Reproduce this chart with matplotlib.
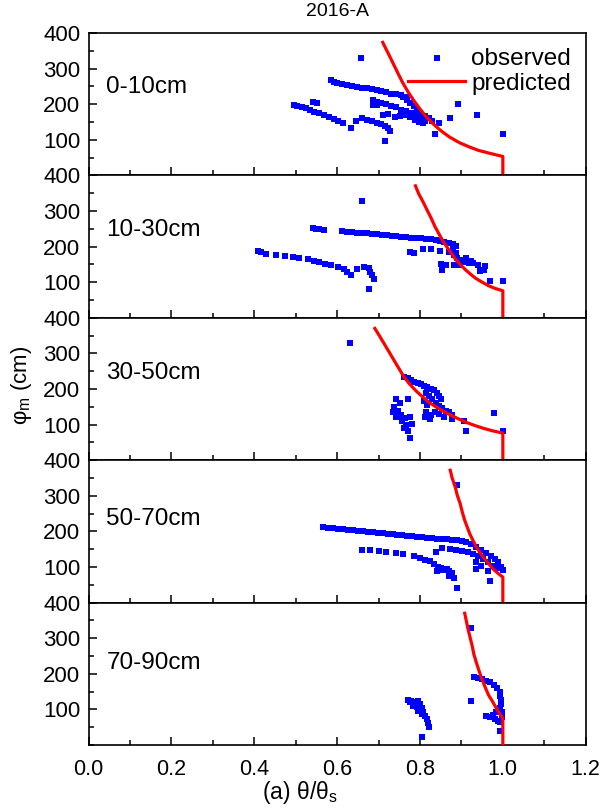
import matplotlib
matplotlib.use("Agg")
import matplotlib.pyplot as plt
from matplotlib.ticker import MultipleLocator, FixedLocator

# ---------------- data ----------------
depth_labels = ["0-10cm", "10-30cm", "30-50cm", "50-70cm", "70-90cm"]
label_y = [247, 247, 244, 236, 230]

obs_x_0_10 = [0.584, 0.592, 0.600, 0.612, 0.624, 0.636, 0.648, 0.660, 0.671, 0.683, 0.695, 0.707, 0.719, 0.731, 0.743, 0.755, 0.767,
              0.496, 0.504, 0.514, 0.524, 0.534, 0.542, 0.552, 0.545, 0.556, 0.568, 0.580, 0.592, 0.602, 0.613, 0.633, 0.646, 0.659,
              0.671, 0.683, 0.695, 0.705, 0.715, 0.723, 0.727, 0.711, 0.722, 0.715, 0.658,
              0.686, 0.695, 0.707, 0.719, 0.731, 0.743, 0.755, 0.767, 0.779, 0.791, 0.803, 0.811, 0.686, 0.697,
              0.739, 0.751, 0.763, 0.775, 0.787, 0.797, 0.807,
              0.759, 0.769, 0.777, 0.785, 0.793, 0.801, 0.811, 0.821, 0.829,
              0.891, 0.938, 1.000, 0.873, 0.847, 0.837]
obs_y_0_10 = [268, 262, 259, 256, 253, 251, 249, 246, 245, 242, 240, 237, 234, 230, 228, 225, 221,
              197.5, 195, 192, 188, 183, 205, 202, 178, 174, 169, 164.5, 158, 152, 148, 134, 153, 160,
              157, 152, 148, 144, 140, 133, 125, 169, 172, 96, 331,
              212, 207, 204, 200, 195, 191, 185, 180, 174, 168, 163, 153, 197.5, 197.5,
              163, 166, 169, 164.5, 157, 150, 146,
              221, 213, 204, 195, 185, 176, 166, 160, 153,
              200, 169, 117, 160, 148, 117]
pred_x_0_10 = [0.710, 0.727, 0.743, 0.757, 0.771, 0.785, 0.799, 0.815, 0.831, 0.851, 0.871, 0.895, 0.919, 0.942,
               0.966, 0.986, 1.000, 1.000]
pred_y_0_10 = [373.6, 334, 296, 263, 235, 210, 188, 164.5, 145.7, 125, 108, 92, 80, 70, 62.8, 57, 53.3, 0]

obs_x_10_30 = [0.661,
               0.541, 0.549, 0.557, 0.569, 0.612, 0.624, 0.636, 0.648, 0.660, 0.672, 0.684, 0.696, 0.708, 0.720, 0.732,
               0.743, 0.755, 0.767, 0.779, 0.791, 0.803, 0.815, 0.827, 0.839, 0.848, 0.859, 0.871, 0.880, 0.887,
               0.775, 0.785, 0.807, 0.827, 0.848, 0.871, 0.883, 0.890, 0.898, 0.909, 0.918, 0.928, 0.941, 0.956,
               0.851, 0.863, 0.852, 0.883, 0.893, 0.946, 0.954, 0.970, 1.000, 0.879, 0.888, 0.910, 0.922,
               0.410, 0.417, 0.429, 0.453, 0.473, 0.493, 0.509, 0.529, 0.545, 0.557, 0.570, 0.586, 0.602, 0.616,
               0.624, 0.634, 0.648, 0.666, 0.676, 0.680, 0.684, 0.688, 0.677]
obs_y_10_30 = [328.5,
               251.7, 249.9, 249, 247, 244, 242, 240, 239.6, 237.7, 236.8, 235, 234, 233, 232, 231,
               230, 228, 227, 225, 224.6, 223.7, 222.7, 221, 219, 217, 214, 211, 208, 203,
               184.3, 181.5, 193.7, 193.7, 189, 184.3, 177, 169, 163, 156, 153.5, 153.5, 149, 146,
               150.6, 149, 133, 147, 149, 132, 135, 102, 102, 191, 181.5, 167, 160,
               188, 184.3, 179.7, 177, 174, 171, 167.5, 163.8, 160, 156, 152.5, 149, 144, 137.5,
               130, 120.7, 137.5, 144, 139, 130, 120.7, 109, 79.5]
pred_x_10_30 = [0.789, 0.797, 0.807, 0.817, 0.827, 0.836, 0.847, 0.856, 0.867, 0.877, 0.887, 0.898, 0.910, 0.922,
                0.934, 0.950, 0.966, 0.982, 1.000, 1.000]
pred_y_10_30 = [370.6, 348, 326.6, 303, 280, 256.4, 233, 214.3, 195.6, 178.7, 162.8, 148.8, 134.7, 122.6,
                111.3, 100.1, 89.8, 82.3, 75.8, 0]

obs_x_30_50 = [0.630,
               0.762, 0.770, 0.778, 0.786, 0.794, 0.802, 0.810, 0.818, 0.826, 0.834, 0.842, 0.846, 0.850,
               0.814, 0.822, 0.830, 0.838, 0.846, 0.854, 0.862, 0.870, 0.878,
               0.810, 0.818, 0.814, 0.826, 0.836, 0.846, 0.858, 0.878, 0.906, 0.910, 0.978, 1.000, 0.823, 0.812,
               0.743, 0.751, 0.772, 0.738, 0.734, 0.746, 0.754, 0.764, 0.775, 0.780, 0.766, 0.762, 0.770, 0.775,
               0.756, 0.742]
obs_y_30_50 = [329,
               232.5, 229.7, 226, 221, 216.6, 213.8, 209, 204.4, 199.8, 197, 190, 181, 171.7,
               190, 181, 171.7, 162, 153, 148, 139, 134, 127.7,
               165, 155.8, 134, 127.7, 134, 129.6, 120, 115.5, 111, 81, 131.4, 83, 115.5, 122,
               171.7, 162, 171.7, 150, 134, 137, 127.7, 118.3, 120, 103, 99.6, 90, 82.8, 61,
               110.8, 122]
pred_x_30_50 = [0.691, 0.702, 0.714, 0.726, 0.738, 0.750, 0.762, 0.775, 0.790, 0.806, 0.822, 0.838, 0.854, 0.874,
                0.894, 0.914, 0.934, 0.954, 0.974, 1.000, 1.000]
pred_y_30_50 = [370.1, 349.5, 326.1, 302.7, 279.3, 255.9, 232.5, 213.8, 195.1, 178.2, 162.3, 150.2, 138.9, 126.8,
                115.5, 105.2, 96.8, 89.3, 82.8, 76.2, 0]

obs_x_50_70 = [0.889,
               0.565, 0.579, 0.590, 0.602, 0.614, 0.626, 0.638, 0.650, 0.662, 0.674, 0.686, 0.698, 0.710, 0.722,
               0.734, 0.745, 0.757, 0.769, 0.781, 0.793, 0.805, 0.817, 0.829, 0.841, 0.853, 0.865, 0.877, 0.889,
               0.901, 0.912, 0.924, 0.936, 0.948, 0.960, 0.972, 0.980, 0.988, 0.996, 1.000,
               0.660, 0.679, 0.702, 0.718, 0.742, 0.759, 0.785, 0.799, 0.813, 0.825, 0.835, 0.843, 0.851, 0.861,
               0.869, 0.877, 0.883, 0.890, 0.841, 0.849, 0.869, 0.865,
               0.838, 0.854, 0.873, 0.886, 0.901, 0.916, 0.928, 0.940, 0.952, 0.964, 0.976, 0.988,
               0.936, 0.935, 0.948, 0.964, 0.968]
obs_y_50_70 = [329.6,
               212.2, 210.3, 209, 207.5, 206, 204.7, 203.3, 201.9, 200.5, 199, 197.6, 196.2, 194.8, 193.4,
               192, 190.6, 189.2, 187.8, 186.4, 185, 183.6, 182.2, 181.2, 179.8, 178.4, 177.5, 176.5, 175.6,
               173.7, 169, 163.4, 155.9, 148.3, 140, 129.6, 122, 112.7, 101.4, 92,
               148.3, 146.5, 144.6, 142.7, 139, 135.2, 129.6, 125.8, 120.2, 116.4, 108.9, 101.4, 97.6, 92,
               88.3, 82.6, 69.5, 40.4, 88.3, 92, 76, 94.8,
               141.8, 154, 150.2, 146.5, 144.6, 140.8, 136.1, 129.6, 122, 113.6, 104.2, 97.6,
               94.8, 113.6, 104.2, 88.3, 62]
pred_x_50_70 = [0.873, 0.878, 0.885, 0.890, 0.897, 0.902, 0.908, 0.914, 0.920, 0.928, 0.936, 0.946, 0.956, 0.966,
                0.976, 0.988, 1.000, 1.000]
pred_y_50_70 = [371.8, 348.4, 324.9, 301.4, 277.9, 254.5, 231, 212.2, 193.4, 174.6, 155.9, 138.9, 123, 108.9,
                94.8, 82.6, 71.4, 0]

obs_x_70_90 = [0.924, 0.922,
               0.930, 0.940, 0.950, 0.960, 0.970, 0.978, 0.986, 0.992, 0.994, 0.996, 0.996, 0.994, 0.998, 0.998,
               0.984, 0.976, 0.968, 0.960, 0.980, 0.988, 0.994, 0.992,
               0.772, 0.778, 0.786, 0.794, 0.800, 0.792, 0.804, 0.808, 0.812, 0.804, 0.816, 0.820, 0.822, 0.806,
               0.776, 0.784, 0.796]
obs_y_70_90 = [329, 123.2,
               191.5, 189.6, 185, 180.3, 175.6, 168, 158.8, 149.4, 138.2, 127, 114.8, 102.7, 91.4, 77.4,
               91.4, 84, 77.4, 82, 72.8, 68, 65.3, 40,
               127, 122.3, 119.5, 122.3, 114.8, 105.5, 102.7, 91.4, 82, 86.8, 72.8, 61.5, 49.4, 21.3,
               119.5, 110, 96]
pred_x_70_90 = [0.908, 0.912, 0.916, 0.921, 0.926, 0.930, 0.936, 0.942, 0.948, 0.954, 0.960, 0.966, 0.974, 0.981,
                0.988, 0.994, 1.000, 1.000]
pred_y_70_90 = [370, 347.6, 325.2, 301.8, 278.5, 255, 231.7, 210.2, 189.6, 171.9, 155, 139.1, 124.2, 110.2,
                96.1, 84.9, 74.6, 0]

x_ticks = [0.0, 0.2, 0.4, 0.6, 0.8, 1.0, 1.2]
y_ticks = [100, 200, 300, 400]

panels = [
    (obs_x_0_10, obs_y_0_10, pred_x_0_10, pred_y_0_10),
    (obs_x_10_30, obs_y_10_30, pred_x_10_30, pred_y_10_30),
    (obs_x_30_50, obs_y_30_50, pred_x_30_50, pred_y_30_50),
    (obs_x_50_70, obs_y_50_70, pred_x_50_70, pred_y_50_70),
    (obs_x_70_90, obs_y_70_90, pred_x_70_90, pred_y_70_90),
]

# ---------------- figure ----------------
plt.rcParams["font.family"] = ["Liberation Sans", "DejaVu Sans"]
plt.rcParams["mathtext.fontset"] = "custom"
plt.rcParams["mathtext.rm"] = "Liberation Sans"
plt.rcParams["mathtext.it"] = "Liberation Sans"

W, H = 610, 811
fig = plt.figure(figsize=(W / 100, H / 100), dpi=100)
left, right = 88.6 / W, 585.7 / W
top, bottom = 1 - 33 / H, 1 - 745 / H
gs = fig.add_gridspec(5, 1, left=left, right=right, top=top, bottom=bottom, hspace=0)

for i, (ox, oy, px, py) in enumerate(panels):
    ax = fig.add_subplot(gs[i, 0])
    sc = ax.scatter(ox, oy, marker="s", s=16, color="#0000ff", linewidths=0, zorder=2, label="observed")
    ln, = ax.plot(px, py, color="#ff0000", lw=2.3, zorder=3, label="predicted")
    ax.set_xlim(0, 1.2)
    ax.set_ylim(0, 400)
    ax.xaxis.set_major_locator(FixedLocator(x_ticks))
    ax.xaxis.set_minor_locator(MultipleLocator(0.1))
    ax.yaxis.set_major_locator(FixedLocator(y_ticks))
    ax.yaxis.set_minor_locator(MultipleLocator(50))
    ax.tick_params(which="both", direction="in", top=False, right=False)
    ax.tick_params(axis="y", labelsize=16, pad=6)
    ax.tick_params(axis="x", labelsize=15.5, pad=10)
    ax.tick_params(which="major", length=6, width=1.1)
    ax.tick_params(which="minor", length=3.5, width=1.1)
    for s in ax.spines.values():
        s.set_linewidth(1.2)
    if i < 4:
        ax.tick_params(labelbottom=False)
    else:
        ax.set_xticklabels(["%.1f" % v for v in x_ticks])
    ax.text(0.036, label_y[i], depth_labels[i], transform=ax.get_yaxis_transform(),
            ha="left", va="center", fontsize=17.5)
    if i == 0:
        ax.legend(handles=[sc, ln], loc="upper right", frameon=False, fontsize=17.5,
                  scatterpoints=1, handlelength=2.35, handletextpad=0.25,
                  labelspacing=0.12, borderpad=0.2, borderaxespad=0.4)

fig.text((left + right) / 2, 1 - 12 / H, "2016-A", ha="center", va="center", fontsize=14)
fig.text(22 / W, 1 - 385 / H, "φ$_\\mathregular{m}$ (cm)", rotation=90, ha="center", va="center", fontsize=16)
fig.text(300 / W, 1 - 792 / H, "(a) θ/θ$_\\mathregular{s}$", ha="center", va="center", fontsize=16.5)

fig.savefig("out.png", dpi=100)
